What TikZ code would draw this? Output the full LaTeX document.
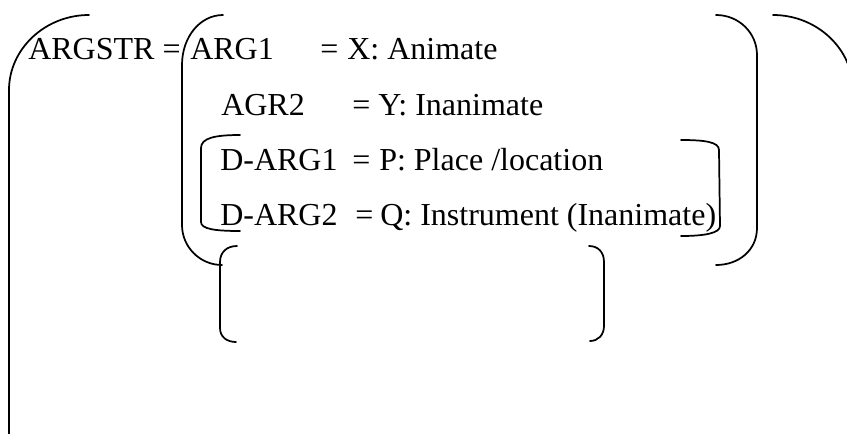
\documentclass[tikz,border=0pt]{standalone}
\usepackage{fontspec}
\setmainfont{Liberation Serif}
\usetikzlibrary{positioning}
\tikzset{
  brk/.style={line width=1.3pt, line cap=round, draw=black},
  lbl/.style={anchor=base west, inner sep=0pt, font=\fontsize{24}{28}\selectfont, text=black},
}

\begin{document}
\begin{tikzpicture}[x=0.75pt,y=-0.75pt]
  \useasboundingbox (0,0) rectangle (847,433);
  \clip (0,0) rectangle (847,433);

  % outer brackets of ARGSTR
  \draw[brk] (89,15) .. controls (45,15) and (9,49) .. (9,90) -- (9,440);
  \draw[brk] (773,15) .. controls (817,15) and (853,49) .. (853,90) -- (853,440);

  % bracket round the argument block
  \draw[brk] (223,15) .. controls (200,15) and (182,37) .. (182,65)
    -- (182,225) .. controls (182,247) and (200,265) .. (222,265);
  \draw[brk] (716,15) .. controls (739,15) and (757,33) .. (757,55)
    -- (757,228) .. controls (757,250) and (739,265) .. (716,265);

  % bracket round the default arguments
  \draw[brk] (240,135) .. controls (215,135) and (201,138) .. (201,148)
    -- (201,222) .. controls (201,229) and (215,231) .. (240,231);
  \draw[brk] (681,140) .. controls (705,140) and (719,142) .. (719,150)
    -- (720,226) .. controls (720,233) and (705,236) .. (681,236);

  % empty bracket below
  \draw[brk] (237,246) .. controls (227,246) and (220,252) .. (220,262)
    -- (220,328) .. controls (220,337) and (227,342) .. (236,342);
  \draw[brk] (589,246) .. controls (598,246) and (604,252) .. (604,262)
    -- (604,326) .. controls (604,335) and (598,341) .. (590,341);

  % rows
  \node[lbl] (argstr) at (28,59)  {ARGSTR =};

  \node[lbl] (arg1)   at (190,59) {ARG1};
  \node[lbl] (eq1)    at (320,59) {=};
  \node[lbl] (val1)   at (347,59) {X: Animate};

  \node[lbl] (agr2)   at (221,115) {AGR2};
  \node[lbl] (eq2)    at (352,115) {=};
  \node[lbl] (val2)   at (378,115) {Y: Inanimate};

  \node[lbl] (darg1)  at (220,170) {D-ARG1};
  \node[lbl] (eq3)    at (352,170) {=};
  \node[lbl] (val3)   at (379,170) {P: Place /location};

  \node[lbl] (darg2)  at (220,225) {D-ARG2};
  \node[lbl] (eq4)    at (355,225) {=};
  \node[lbl] (val4)   at (380,225) {Q: Instrument (Inanimate)};
\end{tikzpicture}
\end{document}
